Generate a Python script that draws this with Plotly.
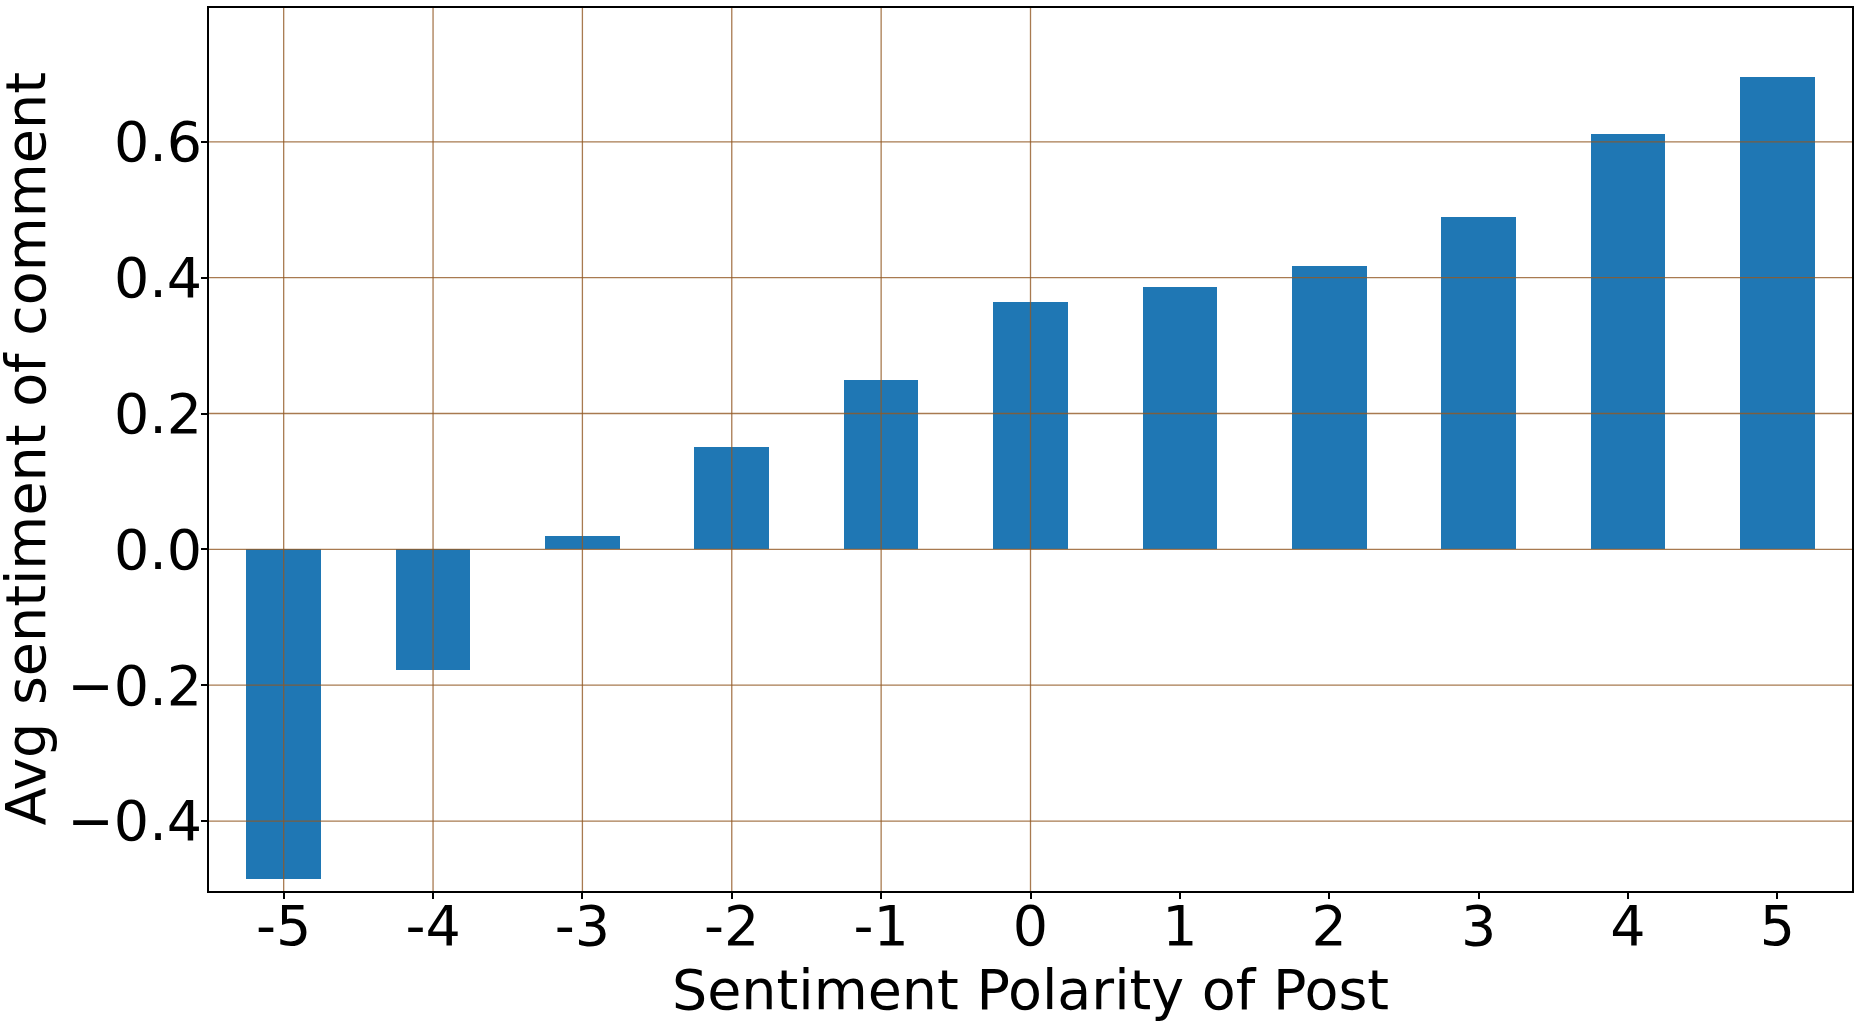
import plotly.graph_objects as go

# sentiment polarity of post vs mean sentiment of the comments
polarity = ["-5", "-4", "-3", "-2", "-1", "0", "1", "2", "3", "4", "5"]
avg_comment = [-0.486, -0.177, 0.019, 0.151, 0.250, 0.364, 0.386, 0.417, 0.489, 0.612, 0.695]
y_ticks = [-0.4, -0.2, 0.0, 0.2, 0.4, 0.6]

font = dict(family="DejaVu Sans", size=55.5, color="black")
grid = "rgba(146, 89, 36, 0.8)"

fig = go.Figure()
fig.add_trace(go.Bar(x=polarity, y=avg_comment, width=0.5,
                     marker=dict(color="#1f77b4", line=dict(width=0))))

# matplotlib draws the grid over the bars, so use shapes on top
for v in y_ticks:
    fig.add_shape(type="line", xref="paper", yref="y", x0=0, x1=1, y0=v, y1=v,
                  line=dict(color=grid, width=1.3), layer="above")
for c in polarity:
    fig.add_shape(type="line", xref="x", yref="paper", x0=c, x1=c, y0=0, y1=1,
                  line=dict(color=grid, width=1.3), layer="above")

# y title as an annotation so it can sit closer to the page edge
fig.add_annotation(text="Avg sentiment of comment", textangle=-90,
                   xref="paper", yref="paper", x=0, y=0.5,
                   xanchor="center", yanchor="middle", xshift=-184,
                   showarrow=False, font=font)

fig.update_layout(
    width=1861, height=1022,
    margin=dict(l=209, r=9, t=6, b=131),
    paper_bgcolor="white", plot_bgcolor="white",
    font=font, showlegend=False,
    bargap=0,
)
fig.update_xaxes(
    type="category", range=[-0.5, 10.5],
    showgrid=False, zeroline=False,
    showline=True, linecolor="black", linewidth=1.5, mirror=True,
    ticks="outside", ticklen=6, tickwidth=1.5, tickcolor="black",
    tickfont=font, ticklabelstandoff=-20,
    title=dict(text="Sentiment Polarity of Post", font=font, standoff=8),
)
fig.update_yaxes(
    range=[-0.503, 0.797], tickvals=y_ticks, tickformat=".1f",
    showgrid=False, zeroline=False,
    showline=True, linecolor="black", linewidth=1.5, mirror=True,
    ticks="outside", ticklen=6, tickwidth=1.5, tickcolor="black",
    tickfont=font, ticklabelstandoff=-12,
)

# drop the default 8px body margin so the figure fills the window exactly
fig.write_html("out.html", config={"displayModeBar": False},
               post_script="document.body.style.margin = '0';")
